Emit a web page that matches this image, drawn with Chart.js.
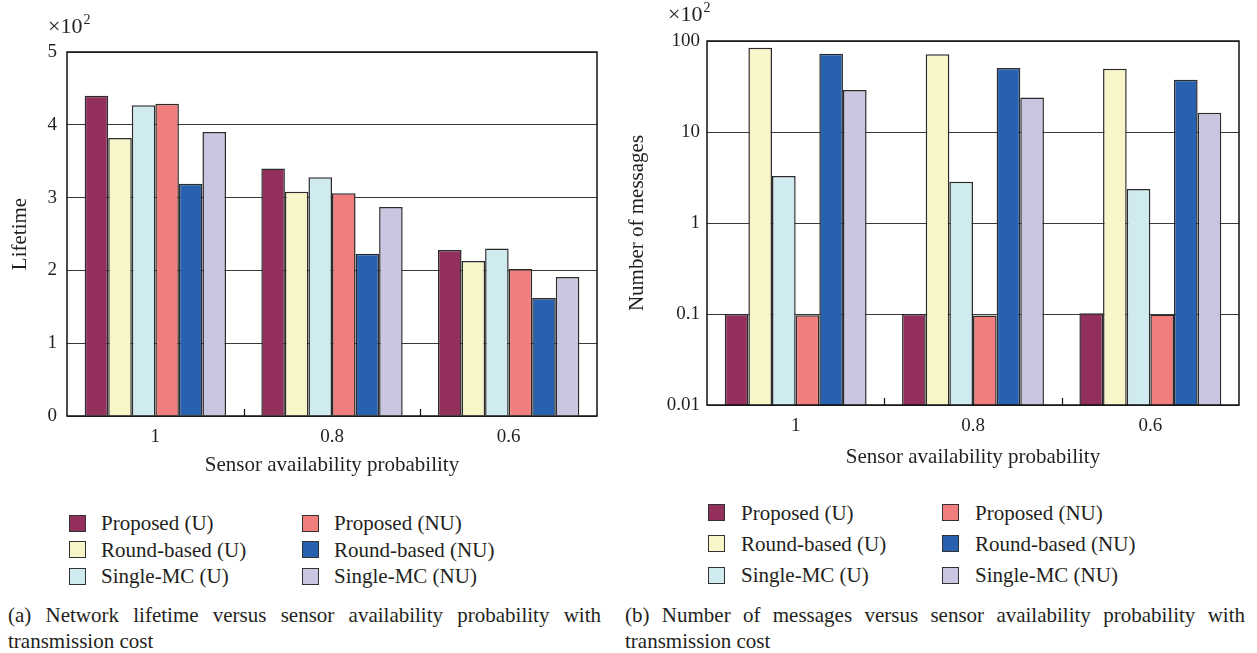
<!DOCTYPE html>
<html><head><meta charset="utf-8">
<script src="https://cdn.jsdelivr.net/npm/chart.js@4.4.1/dist/chart.umd.min.js"></script>
<style>
html,body{margin:0;padding:0;background:#fff;}
body{width:1257px;height:653px;position:relative;overflow:hidden;font-family:"Liberation Serif",serif;color:#231f20;}
canvas{position:absolute;top:0;}
.sw{position:absolute;box-sizing:border-box;width:17px;height:17px;border:1.5px solid #333;}
.lt{position:absolute;font-size:21px;line-height:24px;white-space:nowrap;}
.cap{position:absolute;font-size:21px;line-height:26px;}
.cap .l1{text-align:justify;text-align-last:justify;white-space:nowrap;}
</style></head><body>
<canvas id="cA" width="620" height="480" style="left:0"></canvas>
<canvas id="cB" width="637" height="480" style="left:620px"></canvas>
<div id="legA"></div><div id="legB"></div>
<div class="cap" style="left:8px;top:602px;width:593px">
 <div class="l1">(a) Network lifetime versus sensor availability probability with</div>
 <div>transmission cost</div></div>
<div class="cap" style="left:625px;top:602px;width:620px">
 <div class="l1">(b) Number of messages versus sensor availability probability with</div>
 <div>transmission cost</div></div>
<script>
// ---- data ----
const categories = ['1', '0.8', '0.6'];
const seriesNames = ['Proposed (U)', 'Round-based (U)', 'Single-MC (U)', 'Proposed (NU)', 'Round-based (NU)', 'Single-MC (NU)'];
// (a) Lifetime (x10^2)
const lifetimeProposedU  = [4.40, 3.40, 2.28];
const lifetimeRoundU     = [3.82, 3.08, 2.13];
const lifetimeSingleU    = [4.27, 3.28, 2.30];
const lifetimeProposedNU = [4.29, 3.06, 2.02];
const lifetimeRoundNU    = [3.19, 2.23, 1.62];
const lifetimeSingleNU   = [3.90, 2.87, 1.91];
// (b) Number of messages (x10^2)
const msgProposedU  = [0.100, 0.100, 0.102];
const msgRoundU     = [84.4, 71.4, 49.6];
const msgSingleU    = [3.28, 2.84, 2.36];
const msgProposedNU = [0.097, 0.096, 0.099];
const msgRoundNU    = [72.6, 50.5, 37.6];
const msgSingleNU   = [28.9, 24.0, 16.3];
const lifetimeTicks = [0, 1, 2, 3, 4, 5];
const messageTicks  = [0.01, 0.1, 1, 10, 100];

// ---- styles ----
const colors = ['#922f5d', '#f8f6c9', '#cfebf0', '#f17d7c', '#2861b0', '#c9c6e2'];
const FONT = 'Liberation Serif';
const TXT = '#231f20';

const framePlugin = {
  id: 'frame',
  afterDatasetsDraw(chart, args, opts) {
    const {ctx, chartArea: a} = chart;
    const x = chart.scales.x;
    ctx.save();
    ctx.strokeStyle = '#111';
    ctx.lineWidth = 1.5;
    ctx.strokeRect(a.left, a.top, a.right - a.left, a.bottom - a.top);
    ctx.lineWidth = 1.2;
    for (let i = 0; i < categories.length - 1; i++) {
      const px = Math.round((x.getPixelForValue(i) + x.getPixelForValue(i + 1)) / 2) + 0.5;
      ctx.beginPath(); ctx.moveTo(px, a.bottom); ctx.lineTo(px, a.bottom - 7); ctx.stroke();
    }
    ctx.fillStyle = TXT;
    ctx.textBaseline = 'alphabetic';
    ctx.font = '22px "' + FONT + '"';
    ctx.fillText('\u00d710', opts.x, opts.y);
    const w = ctx.measureText('\u00d710').width;
    ctx.font = '14px "' + FONT + '"';
    ctx.fillText('2', opts.x + w + 1, opts.y - 9);
    ctx.restore();
  }
};

function makeChart(id, series, yScale, cfg) {
  return new Chart(document.getElementById(id), {
    type: 'bar',
    data: {
      labels: categories,
      datasets: series.map((d, i) => ({
        label: seriesNames[i], data: d, backgroundColor: colors[i],
        borderColor: '#2b2b2b', borderWidth: 1.5,
        categoryPercentage: 0.8, barPercentage: 1.0
      }))
    },
    options: {
      responsive: false, animation: false,
      layout: {padding: {top: cfg.top, right: cfg.right, left: 0, bottom: 0}},
      plugins: {legend: {display: false}, tooltip: {enabled: false}, frame: cfg.exp},
      scales: {
        x: {
          grid: {display: false}, border: {display: false},
          ticks: {font: {family: FONT, size: 19}, color: TXT, padding: cfg.xTickPad},
          title: {display: true, text: 'Sensor availability probability', color: TXT,
                  font: {family: FONT, size: 21}, padding: {top: 0, bottom: cfg.xTitlePad}},
          afterFit(s) { s.height = cfg.xh; }
        },
        y: Object.assign({
          grid: {color: '#3a3a3a', lineWidth: 1, drawTicks: false},
          border: {display: false},
          ticks: {font: {family: FONT, size: 19}, color: TXT, padding: cfg.yTickPad, callback: v => String(v)},
          title: {display: true, text: cfg.yTitle, color: TXT,
                  font: {family: FONT, size: 21}, padding: {top: cfg.yTitlePad, bottom: 0}},
          afterFit(s) { s.width = cfg.yw; }
        }, yScale)
      }
    },
    plugins: [framePlugin]
  });
}

makeChart('cA',
  [lifetimeProposedU, lifetimeRoundU, lifetimeSingleU, lifetimeProposedNU, lifetimeRoundNU, lifetimeSingleNU],
  {min: 0, max: 5, afterBuildTicks(s) { s.ticks = lifetimeTicks.map(v => ({value: v})); }},
  {top: 52, right: 23, xh: 64, yw: 67, xTickPad: 2, xTitlePad: 2.4, yTickPad: 10, yTitlePad: 7.4,
   yTitle: 'Lifetime', exp: {x: 48, y: 33}});

makeChart('cB',
  [msgProposedU, msgRoundU, msgSingleU, msgProposedNU, msgRoundNU, msgSingleNU],
  {type: 'logarithmic', min: 0.01, max: 100, afterBuildTicks(s) { s.ticks = messageTicks.map(v => ({value: v})); }},
  {top: 41, right: 18, xh: 75, yw: 87, xTickPad: 2, xTitlePad: 10.4, yTickPad: 7, yTitlePad: 5,
   yTitle: 'Number of messages', exp: {x: 48, y: 21}});

function buildLegend(id, x0, colGap, y0, rowGap, textOff) {
  const el = document.getElementById(id);
  seriesNames.forEach((name, i) => {
    const col = Math.floor(i / 3), row = i % 3;
    const cx = x0 + col * colGap, cy = y0 + row * rowGap;
    const sw = document.createElement('div');
    sw.className = 'sw';
    sw.style.left = cx + 'px'; sw.style.top = (cy - 8.5) + 'px';
    sw.style.background = colors[i];
    el.appendChild(sw);
    const t = document.createElement('div');
    t.className = 'lt';
    t.textContent = name;
    t.style.left = (cx + textOff) + 'px'; t.style.top = (cy - 12) + 'px';
    el.appendChild(t);
  });
}
buildLegend('legA', 69, 233, 523.3, 26.4, 32);
buildLegend('legB', 708, 234, 512.7, 31.2, 33);
</script>
</body></html>
